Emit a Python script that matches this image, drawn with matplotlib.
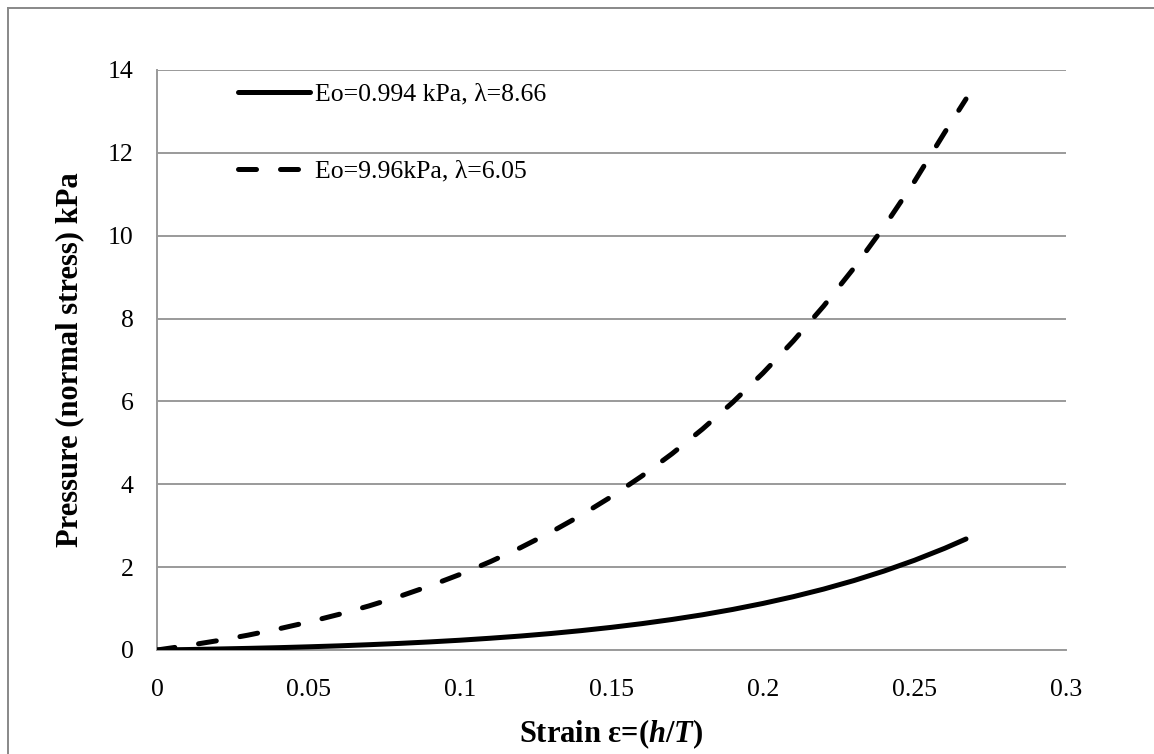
import matplotlib
matplotlib.use('Agg')
import matplotlib.pyplot as plt
from matplotlib.lines import Line2D

plt.rcParams['font.family'] = ['Liberation Serif', 'DejaVu Serif']
plt.rcParams['mathtext.fontset'] = 'custom'
plt.rcParams['mathtext.rm'] = 'Liberation Serif:bold'
plt.rcParams['mathtext.bf'] = 'Liberation Serif:bold'
plt.rcParams['mathtext.it'] = 'Liberation Serif:italic:bold'
plt.rcParams['mathtext.bfit'] = 'Liberation Serif:italic:bold'

# strain values and pressure (kPa)
strain = [0, 0.01, 0.02, 0.03, 0.04, 0.05, 0.06, 0.07, 0.08, 0.09, 0.10,
          0.11, 0.12, 0.13, 0.14, 0.15, 0.16, 0.17, 0.18, 0.19, 0.20,
          0.21, 0.22, 0.23, 0.24, 0.25, 0.26, 0.267]
p_soft = [0, 0.011, 0.024, 0.039, 0.056, 0.077, 0.100, 0.128, 0.159, 0.195, 0.236,
          0.284, 0.337, 0.398, 0.468, 0.547, 0.636, 0.737, 0.850, 0.979, 1.124,
          1.287, 1.470, 1.676, 1.907, 2.166, 2.456, 2.680]
p_stiff = [0, 0.106, 0.225, 0.358, 0.508, 0.674, 0.859, 1.065, 1.293, 1.546, 1.825,
           2.132, 2.471, 2.844, 3.254, 3.704, 4.198, 4.739, 5.331, 5.978, 6.685,
           7.458, 8.301, 9.219, 10.221, 11.311, 12.497, 13.30]

labels = ['Eo=0.994 kPa, λ=8.66', 'Eo=9.96kPa, λ=6.05']
xticks = [0, 0.05, 0.1, 0.15, 0.2, 0.25, 0.3]
xtick_labels = ['0', '0.05', '0.1', '0.15', '0.2', '0.25', '0.3']
yticks = [0, 2, 4, 6, 8, 10, 12, 14]

fig = plt.figure(figsize=(11.54, 7.54), dpi=100)
ax = fig.add_axes([157 / 1154, 1 - 650 / 754, 909 / 1154, 580 / 754])

fs = 18.5
lab_fs = 22
grid_col = '#9a9a9a'

ax.plot(strain, p_soft, color='black', lw=3.6, solid_capstyle='round',
        label=labels[0], zorder=3)
ax.plot(strain, p_stiff, color='black', lw=3.6, ls=(0, (3.6, 4.8)),
        dash_capstyle='round', label=labels[1], zorder=3)

ax.set_xlim(0, 0.3)
ax.set_ylim(0, 14)
ax.set_xticks(xticks)
ax.set_xticklabels(xtick_labels)
ax.set_yticks(yticks)
ax.yaxis.grid(True, color=grid_col, lw=1.4)
ax.set_axisbelow(True)
ax.tick_params(axis='both', length=0, labelsize=fs)
ax.tick_params(axis='x', pad=21)
ax.tick_params(axis='y', pad=17)

for s in ['top', 'right']:
    ax.spines[s].set_visible(False)
for s in ['left', 'bottom']:
    ax.spines[s].set_color(grid_col)
    ax.spines[s].set_linewidth(1.4)

ax.set_xlabel(r'Strain ε=($\mathbfit{h}$/$\mathbfit{T}$)', fontsize=lab_fs,
              fontweight='bold')
ax.xaxis.set_label_coords(0.5, -0.117)
ax.xaxis.label.set_va('top')
ax.set_ylabel('Pressure (normal stress) kPa', fontsize=lab_fs, fontweight='bold')
ax.yaxis.set_label_coords(-0.08, 0.5)

leg = ax.legend(loc='upper left', bbox_to_anchor=(0.089, 0.978), frameon=False,
                fontsize=fs, handlelength=2.8, handletextpad=0.2,
                labelspacing=2.1, borderpad=0, borderaxespad=0)

# outer chart border (only top and left edges show)
fig.add_artist(Line2D([8 / 1154, 8 / 1154], [0, 1 - 8 / 754],
                      transform=fig.transFigure, color='#888888', lw=1.4))
fig.add_artist(Line2D([8 / 1154, 1], [1 - 8 / 754, 1 - 8 / 754],
                      transform=fig.transFigure, color='#888888', lw=1.4))

fig.savefig('out.png', dpi=100)
